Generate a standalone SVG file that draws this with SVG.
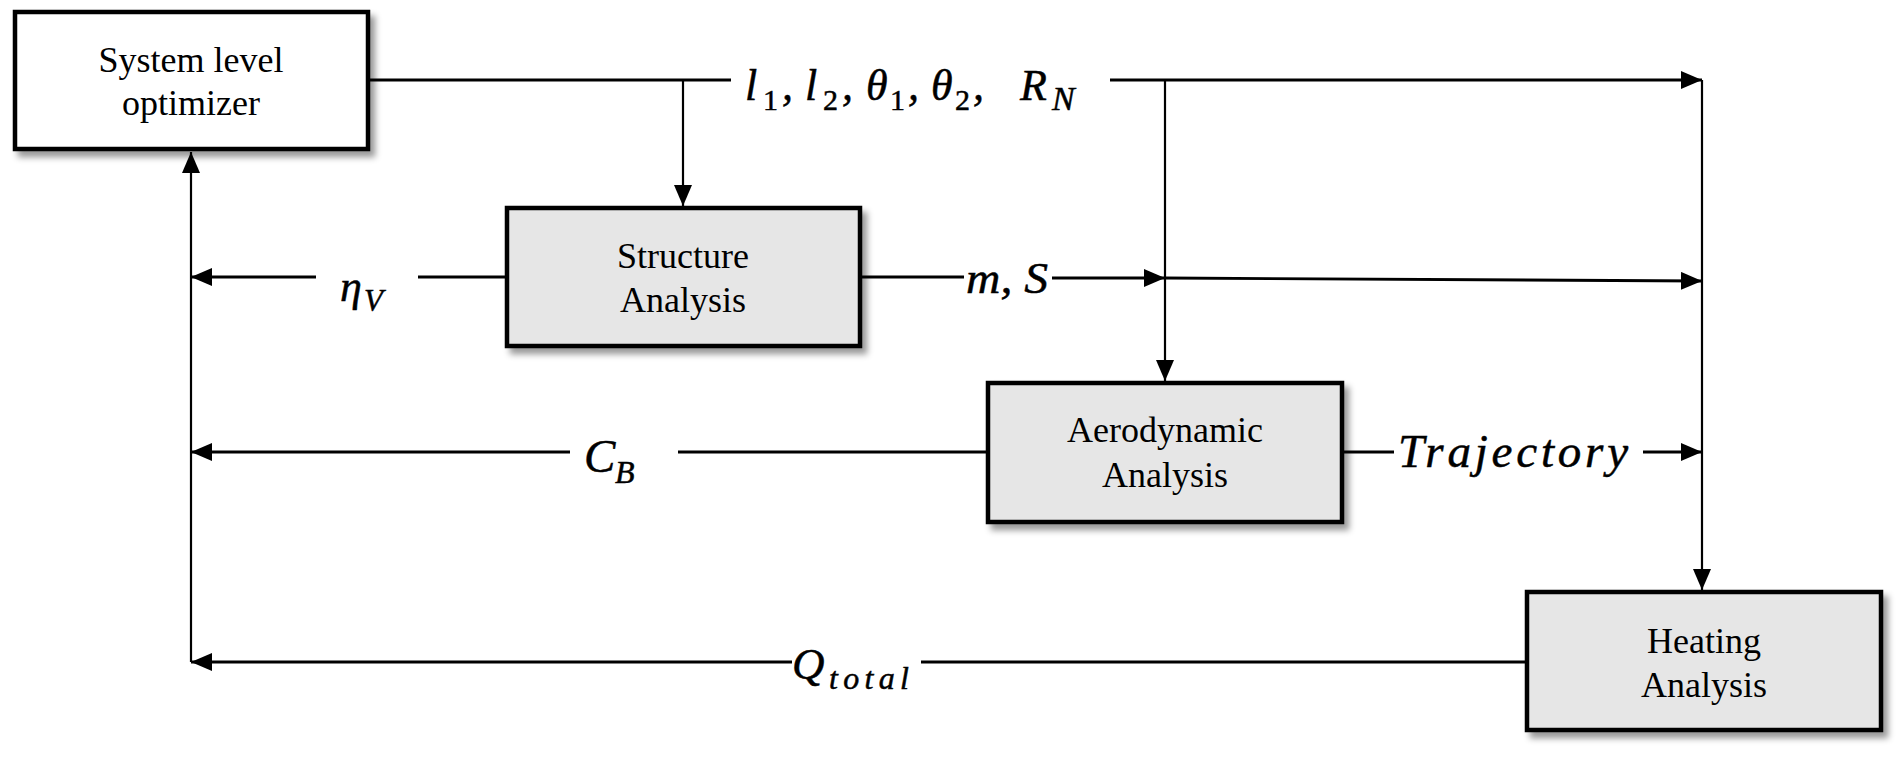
<svg xmlns="http://www.w3.org/2000/svg" width="1902" height="757" viewBox="0 0 1902 757">
<style>
.box{stroke:#000;stroke-width:4.5}
.w{fill:#fff}
.g{fill:#e6e6e6}
.lbl{font-family:"Liberation Serif","Times New Roman",serif;font-size:36px;fill:#000;text-anchor:middle}
.m{font-family:"Liberation Serif","Times New Roman",serif;font-style:italic;fill:#000;stroke:#000;stroke-width:0.5}
.up{font-style:normal}
.ln{stroke:#000;stroke-width:2.8;fill:none}
.v{stroke:#000;stroke-width:2.2;fill:none}
.arr{marker-end:url(#ah)}
</style>
<defs>
<marker id="ah" markerUnits="userSpaceOnUse" markerWidth="21" markerHeight="18" refX="21" refY="9" orient="auto">
<path d="M0,0 L21,9 L0,18 z" fill="#000"/>
</marker>
<filter id="sh" x="-10%" y="-10%" width="130%" height="140%">
<feGaussianBlur in="SourceAlpha" stdDeviation="3"/>
<feOffset dx="5" dy="6" result="o"/>
<feFlood flood-color="#000" flood-opacity="0.4"/>
<feComposite in2="o" operator="in"/>
<feMerge><feMergeNode/><feMergeNode in="SourceGraphic"/></feMerge>
</filter>
</defs>
<rect width="1902" height="757" fill="#fff"/>

<g id="connectors">
<line class="ln" x1="370" y1="80" x2="731" y2="80"/>
<line class="ln arr" x1="1110" y1="80" x2="1702" y2="80"/>
<line class="v arr" x1="683" y1="80" x2="683" y2="206"/>
<line class="v arr" x1="1165" y1="80" x2="1165" y2="381"/>
<line class="v arr" x1="1702" y1="80" x2="1702" y2="590"/>
<line class="ln" x1="505" y1="277" x2="418" y2="277"/>
<line class="ln arr" x1="316" y1="277" x2="191" y2="277"/>
<line class="ln" x1="862" y1="277" x2="964" y2="277"/>
<line class="ln arr" x1="1052" y1="278" x2="1165" y2="278"/>
<line class="ln arr" x1="1165" y1="278" x2="1702" y2="281"/>
<line class="ln" x1="986" y1="452" x2="678" y2="452"/>
<line class="ln arr" x1="570" y1="452" x2="191" y2="452"/>
<line class="ln" x1="1344" y1="452" x2="1394" y2="452"/>
<line class="ln arr" x1="1643" y1="452" x2="1702" y2="452"/>
<line class="ln" x1="1525" y1="662" x2="921" y2="662"/>
<line class="ln arr" x1="792" y1="662" x2="191" y2="662"/>
<line class="v arr" x1="191" y1="662" x2="191" y2="152"/>
</g>

<g id="labels">
<text class="m" font-size="44" y="100"><tspan x="745">l</tspan><tspan x="763" y="110" font-size="30" class="up">1</tspan><tspan x="782" y="100">,</tspan><tspan x="805">l</tspan><tspan x="823" y="110" font-size="30" class="up">2</tspan><tspan x="842" y="100">,</tspan><tspan x="866">θ</tspan><tspan x="890" y="110" font-size="30" class="up">1</tspan><tspan x="908" y="100">,</tspan><tspan x="931">θ</tspan><tspan x="955" y="110" font-size="30" class="up">2</tspan><tspan x="973" y="100">,</tspan><tspan x="1020">R</tspan><tspan x="1052" y="110" font-size="34">N</tspan></text>
<text class="m" font-size="44" y="301"><tspan x="340">η</tspan><tspan x="364" y="311" font-size="31">V</tspan></text>
<text class="m" font-size="45" x="966" y="293" textLength="82" lengthAdjust="spacingAndGlyphs">m, S</text>
<text class="m" font-size="47" y="472"><tspan x="584">C</tspan><tspan x="615" y="483" font-size="32">B</tspan></text>
<text class="m" font-size="47" x="1398" y="467" textLength="230" lengthAdjust="spacing">Trajectory</text>
<text class="m" font-size="45" y="679"><tspan x="792">Q</tspan><tspan x="829" y="689" font-size="32" textLength="80" lengthAdjust="spacing">total</tspan></text>
</g>

<g id="system-optimizer">
<rect class="box w" x="15" y="12" width="353" height="137" filter="url(#sh)"/>
<text class="lbl" x="191" y="72">System level</text>
<text class="lbl" x="191" y="115">optimizer</text>
</g>

<g id="structure-analysis">
<rect class="box g" x="507" y="208" width="353" height="138" filter="url(#sh)"/>
<text class="lbl" x="683" y="268">Structure</text>
<text class="lbl" x="683" y="312">Analysis</text>
</g>

<g id="aerodynamic-analysis">
<rect class="box g" x="988" y="383" width="354" height="139" filter="url(#sh)"/>
<text class="lbl" x="1165" y="442">Aerodynamic</text>
<text class="lbl" x="1165" y="487">Analysis</text>
</g>

<g id="heating-analysis">
<rect class="box g" x="1527" y="592" width="354" height="138" filter="url(#sh)"/>
<text class="lbl" x="1704" y="653">Heating</text>
<text class="lbl" x="1704" y="697">Analysis</text>
</g>
</svg>
